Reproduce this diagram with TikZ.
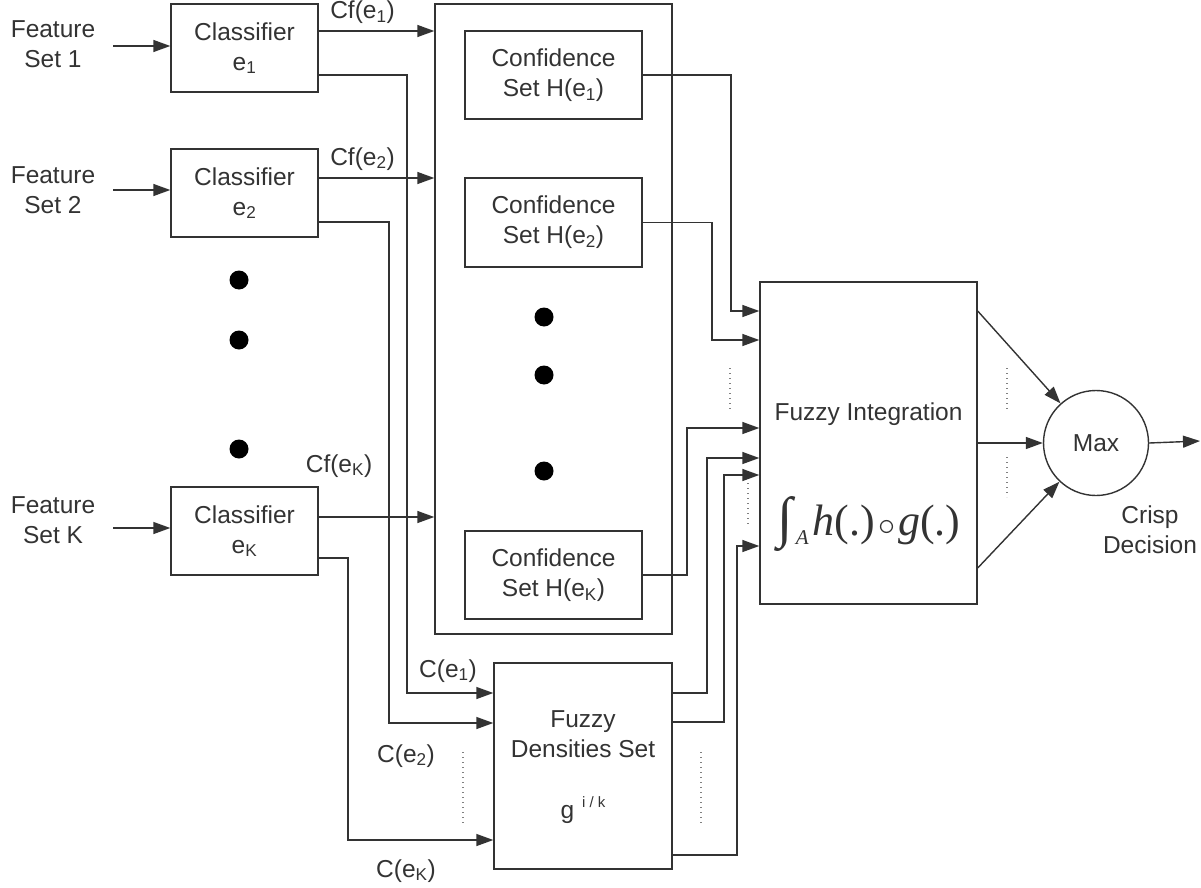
\documentclass[tikz,border=0pt]{standalone}
\usepackage{fontspec}
\setmainfont{Liberation Sans}
\newfontfamily\tms{Liberation Serif}
\usepackage{graphicx}
\usetikzlibrary{arrows.meta,calc}
\definecolor{ink}{HTML}{333333}
\begin{document}
\begin{tikzpicture}[x=1pt,y=-1pt,
  every node/.style={text=ink, font=\fontsize{24.5}{30}\selectfont},
  box/.style={draw=ink, line width=1.4pt, align=center, inner sep=0pt},
  arr/.style={draw=ink, line width=1.4pt, -{Triangle[length=17pt,width=12pt]}},
  dots/.style={draw=gray, line width=1.5pt, dash pattern=on 1pt off 4pt},
  bullet/.style={fill=black}
]
\useasboundingbox (0,0) rectangle (1201,888);

% feature sets
\node[align=center] (f1) at (53,44) {Feature\\Set 1};
\node[align=center] (f2) at (53,190) {Feature\\Set 2};
\node[align=center] (fK) at (53,520) {Feature\\Set K};
\coordinate (f1o) at (113,46);
\coordinate (f2o) at (113,190);
\coordinate (fKo) at (113,528);

% classifiers
\node[box, minimum width=147pt, minimum height=88pt] (c1) at (244.5,48) {Classifier\\e\textsubscript{1}};
\node[box, minimum width=147pt, minimum height=88pt] (c2) at (244.5,193) {Classifier\\e\textsubscript{2}};
\node[box, minimum width=147pt, minimum height=88pt] (cK) at (244.5,531) {Classifier\\e\textsubscript{K}};

\draw[arr] (f1o) -- (c1.west |- f1o);
\draw[arr] (f2o) -- (c2.west |- f2o);
\draw[arr] (fKo) -- (cK.west |- fKo);

\fill[bullet] (239,280) circle (9.5);
\fill[bullet] (239,340) circle (9.5);
\fill[bullet] (239,449) circle (9.5);

% confidence sets
\node[box, minimum width=237pt, minimum height=630pt] (conf) at (553.5,319) {};
\node[box, minimum width=177pt, minimum height=88pt] (h1) at (553.5,75) {Confidence\\Set H(e\textsubscript{1})};
\node[box, minimum width=177pt, minimum height=89pt] (h2) at (553.5,222.5) {Confidence\\Set H(e\textsubscript{2})};
\node[box, minimum width=177pt, minimum height=88pt] (hK) at (553.5,575) {Confidence\\Set H(e\textsubscript{K})};
\fill[bullet] (544,317) circle (9.5);
\fill[bullet] (544,375) circle (9.5);
\fill[bullet] (544,471) circle (9.5);

% fuzzy densities
\node[box, minimum width=178pt, minimum height=206pt] (dens) at (583,766) {};
\node[align=center] (dt) at (583,734) {Fuzzy\\Densities Set};
\node[anchor=base] (dg) at (583,818) {g\hspace{8pt}\raisebox{11pt}{\fontsize{15}{15}\selectfont i / k}};

% fuzzy integration
\node[box, minimum width=217pt, minimum height=322pt] (fi) at (868.5,443) {};
\node[anchor=base] (fit) at (868.5,420) {Fuzzy Integration};
\node[anchor=base, inner sep=0pt] (fml) at (869,535) {\tms\raisebox{-17pt}{\resizebox*{!}{55pt}{\raisebox{\depth}{∫}}}\hspace{3pt}\raisebox{-9pt}{\fontsize{21}{21}\selectfont\itshape A}\hspace{4pt}\fontsize{44}{44}\selectfont\itshape h\upshape(.)\hspace{3pt}\resizebox{17pt}{!}{$\circ$}\hspace{3pt}\itshape g\upshape(.)};

% max
\node[draw=ink, circle, minimum size=105pt, inner sep=0pt, line width=1.4pt] (mx) at (1096,443) {Max};
\node[align=center] (cd) at (1150,530) {Crisp\\Decision};
\coordinate (out) at (1200,441);

% labels
\node[anchor=base] (lcf1) at (362.5,19) {Cf(e\textsubscript{1})};
\node[anchor=base] (lcf2) at (362.5,165) {Cf(e\textsubscript{2})};
\node[anchor=base] (lcfK) at (339,472) {Cf(e\textsubscript{K})};
\node[anchor=base] (lc1) at (448,677) {C(e\textsubscript{1})};
\node[anchor=base] (lc2) at (406,762) {C(e\textsubscript{2})};
\node[anchor=base] (lcK) at (406,877) {C(e\textsubscript{K})};

% classifier outputs
\draw[arr] (c1.east |- 0,31) -- (conf.west |- 0,31);
\draw[arr] (c2.east |- 0,178) -- (conf.west |- 0,178);
\draw[arr] (cK.east |- 0,517) -- (conf.west |- 0,517);
\draw[arr] (c1.east |- 0,75) -- (407,75) -- (407,693) -- (dens.west |- 0,693);
\draw[arr] (c2.east |- 0,222) -- (389,222) -- (389,723) -- (dens.west |- 0,723);
\draw[arr] (cK.east |- 0,558) -- (348,558) -- (348,840) -- (dens.west |- 0,840);

% confidence outputs
\draw[arr] (h1.east) -| (731,311) -- (fi.west |- 0,311);
\draw[arr] (h2.east) -| (712,340) -- (fi.west |- 0,340);
\draw[arr] (hK.east) -| (687,428) -- (fi.west |- 0,428);

% density outputs
\draw[arr] (dens.east |- 0,693) -| (707,458) -- (fi.west |- 0,458);
\draw[arr] (dens.east |- 0,722) -| (724,475) -- (fi.west |- 0,475);
\draw[arr] (dens.east |- 0,855) -| (737,546) -- (fi.west |- 0,546);

% to max
\draw[arr] (fi.east |- 0,311) -- (mx);
\draw[arr] (fi.east) -- (mx);
\draw[arr] (fi.east |- 0,568) -- (mx);
\draw[arr] (mx.east) -- (out);

% dotted ellipses
\draw[dots] (730,368) -- (730,410);
\draw[dots] (748,483) -- (748,527);
\draw[dots] (463,752) -- (463,823);
\draw[dots] (701,752) -- (701,823);
\draw[dots] (1007,368) -- (1007,410);
\draw[dots] (1007,457) -- (1007,497);
\end{tikzpicture}
\end{document}
